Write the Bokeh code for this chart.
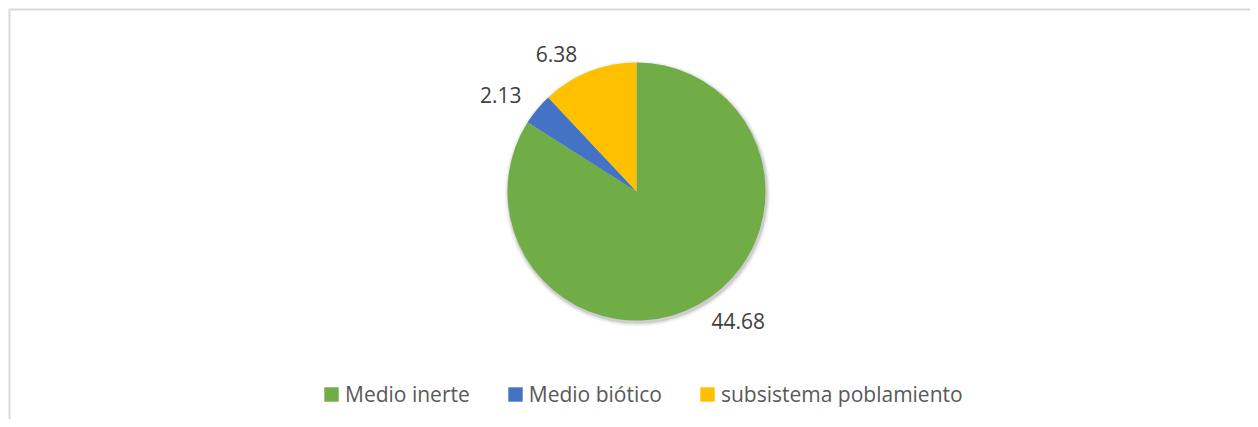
import math
from bokeh.plotting import figure
from bokeh.models import ColumnDataSource, Range1d
from bokeh.embed import file_html
from bokeh.resources import INLINE
from bokeh.core.properties import value

# ---- data ----
categories = ["Medio inerte", "Medio biótico", "subsistema poblamiento"]
values = [44.68, 2.13, 6.38]
labels = ["44.68", "2.13", "6.38"]
colors = ["#70ad47", "#4472c4", "#ffc000"]

# ---- layout (screen pixels, y measured from the top of the figure) ----
W, H = 1250, 419
CX, CY_TOP, R = 636, 191, 129
CY = H - CY_TOP
LABEL_GAP = 10
LABEL_SHIFT = 8
FONT = "Open Sans"

total = sum(values)
starts, ends, mids = [], [], []
acc = 0.0
for v in values:
    a0 = math.pi / 2 - acc / total * 2 * math.pi
    a1 = math.pi / 2 - (acc + v) / total * 2 * math.pi
    starts.append(a0)
    ends.append(a1)
    mids.append((a0 + a1) / 2)
    acc += v

src = ColumnDataSource(dict(
    category=categories, value=values, color=colors,
    start=starts, end=ends,
    x=[CX] * len(values), y=[CY] * len(values),
))

p = figure(width=W, height=H, output_backend="svg", toolbar_location=None,
           x_range=Range1d(0, W), y_range=Range1d(0, H),
           min_border=0, match_aspect=False)
p.axis.visible = False
p.grid.visible = False
p.outline_line_color = None
p.background_fill_color = "white"
p.border_fill_color = "white"

# chart-area border (right/bottom edges fall outside the visible window)
p.quad(left=9, right=W + 20, top=H - 9, bottom=-20,
       fill_color=None, line_color="#d9d9d9", line_width=2)

# soft shadow under the pie
for dr, a in [(4, 0.04), (2.5, 0.06), (1.2, 0.10)]:
    p.circle(x=CX + 1, y=CY - 2, radius=R + dr, radius_units="screen",
             fill_color="#000000", fill_alpha=a, line_color=None)

p.wedge(x="x", y="y", radius=R, radius_units="screen",
        start_angle="start", end_angle="end", direction="clock",
        fill_color="color", line_color=None,
        legend_field="category", source=src)

# data labels, outside end
for txt, m in zip(labels, mids):
    c, s = math.cos(m), math.sin(m)
    x = CX + (R + LABEL_GAP) * c + (LABEL_SHIFT if c >= 0 else -LABEL_SHIFT)
    y = CY + (R + LABEL_GAP) * s
    p.text(x=[x], y=[y], text=[txt],
           text_align="left" if c >= 0 else "right",
           text_baseline="bottom" if s >= 0 else "top",
           text_font=value(FONT), text_font_size="21px", text_color="#404040")

lg = p.legend[0]
lg.orientation = "horizontal"
lg.location = (322, 11)
lg.padding = 0
lg.margin = 0
lg.spacing = 36
lg.label_standoff = 5
lg.glyph_width = 18
lg.glyph_height = 18
lg.label_text_font = FONT
lg.label_text_font_size = "21px"
lg.label_text_color = "#595959"
lg.border_line_color = None
lg.background_fill_alpha = 0

open("out.html", "w").write(file_html(p, INLINE))
